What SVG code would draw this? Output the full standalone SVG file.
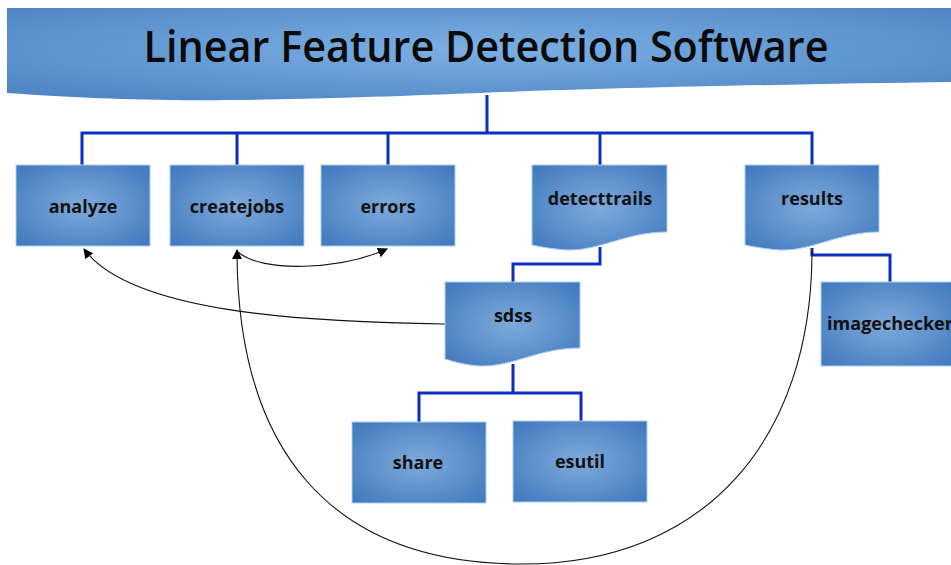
<svg xmlns="http://www.w3.org/2000/svg" width="951" height="565" viewBox="0 0 951 565">
<defs>
<radialGradient id="g" cx="50%" cy="50%" r="70%">
<stop offset="0" stop-color="#7eaadb"/>
<stop offset="1" stop-color="#3f78bd"/>
</radialGradient>
<radialGradient id="gb" cx="50%" cy="45%" r="75%">
<stop offset="0" stop-color="#7cb0e3"/>
<stop offset="1" stop-color="#4a80c2"/>
</radialGradient>
<marker id="ah" viewBox="0 0 10 10" refX="9" refY="5" markerWidth="10" markerHeight="10" markerUnits="userSpaceOnUse" orient="auto">
<path d="M0,0 L10,5 L0,10 Z" fill="#000"/>
</marker>
<style>
.box{fill:url(#g);stroke:#a9cdf0;stroke-width:1}
.lbl{font-family:"Open Sans","DejaVu Sans",sans-serif;font-weight:700;font-size:18px;fill:#111;text-anchor:middle}
.tree{fill:none;stroke:#0b2fc0;stroke-width:3}
.arc{fill:none;stroke:#111;stroke-width:1.1}
</style>
</defs>
<g id="title">
<path d="M7,8 H951 V82 C800,84 600,88 480,93 C350,98 250,101 170,100 C100,99 50,96 7,93 Z" fill="url(#gb)"/>
<text x="486" y="62" font-family="'Open Sans','DejaVu Sans',sans-serif" font-size="44" font-weight="600" fill="#0a0a0a" text-anchor="middle" textLength="685" lengthAdjust="spacingAndGlyphs">Linear Feature Detection Software</text>
</g>
<g id="connectors">
<path class="tree" d="M487,95 V133 M82,165 V133 H812 V165 M237,133 V165 M388,133 V165 M600,133 V165"/>
<path class="tree" d="M600,247 V264 H513 V282"/>
<path class="tree" d="M812,248 V255 H890 V282"/>
<path class="tree" d="M513,364 V393 M419,422 V393 H581 V421"/>
<path class="arc" d="M445,324 C300,322 130,312 84,249" marker-end="url(#ah)"/>
<path class="arc" d="M238,252 C262,273 340,270 387,249" marker-end="url(#ah)"/>
<path class="arc" d="M812,251 C812,440 705,564 522,564 C330,564 237,450 237,250" marker-end="url(#ah)"/>
</g>
<g id="analyze"><rect class="box" x="16" y="165" width="134" height="81"/><text class="lbl" x="83" y="213">analyze</text></g>
<g id="createjobs"><rect class="box" x="170" y="165" width="134" height="81"/><text class="lbl" x="237" y="213">createjobs</text></g>
<g id="errors"><rect class="box" x="321" y="165" width="134" height="81"/><text class="lbl" x="388" y="213">errors</text></g>
<g id="detecttrails"><path class="box" d="M532,165 H667 V232 C625,232 600,251 567,250 C552,249 542,247 532,245 Z"/><text class="lbl" x="600" y="205">detecttrails</text></g>
<g id="results"><path class="box" d="M745,165 H879 V232 C838,232 813,251 780,250 C765,249 755,247 745,245 Z"/><text class="lbl" x="812" y="205">results</text></g>
<g id="sdss"><path class="box" d="M445,282 H580 V348 C538,348 513,367 480,366 C465,365 455,362 445,359 Z"/><text class="lbl" x="513" y="322">sdss</text></g>
<g id="imagechecker"><rect class="box" x="821" y="282" width="134" height="84"/><text class="lbl" x="890" y="330">imagechecker</text></g>
<g id="share"><rect class="box" x="352" y="422" width="134" height="81"/><text class="lbl" x="418" y="469">share</text></g>
<g id="esutil"><rect class="box" x="513" y="421" width="134" height="81"/><text class="lbl" x="580" y="468">esutil</text></g>
</svg>
